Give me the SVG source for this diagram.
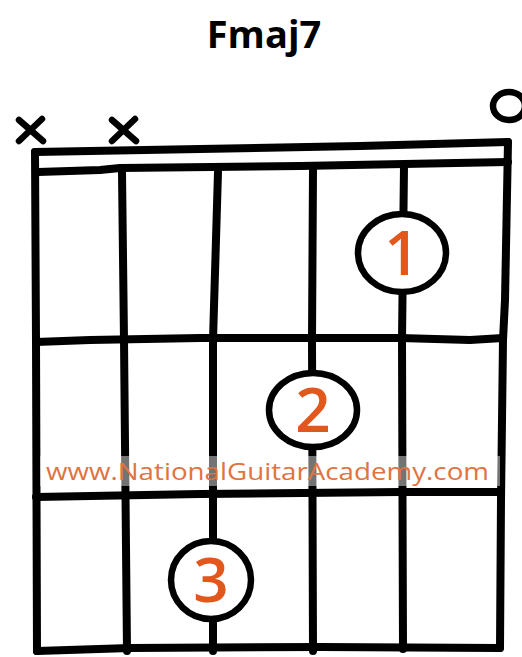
<svg xmlns="http://www.w3.org/2000/svg" width="522" height="657" viewBox="0 0 522 657">
<style>
.ln{fill:none;stroke:#000;stroke-width:8;stroke-linecap:round;stroke-linejoin:round}
.fing{fill:#fff;stroke:#000;stroke-width:6.5}
.num{font-family:"Open Sans","Liberation Sans",sans-serif;font-size:62px;font-weight:600;fill:#e2571c;text-anchor:middle}
.mark{fill:none;stroke:#000;stroke-width:6.5;stroke-linecap:round}
</style>
<rect width="522" height="657" fill="#fff"/>
<g id="title"><text x="264" y="48" font-family="'Open Sans','Liberation Sans',sans-serif" font-weight="bold" font-size="38" text-anchor="middle" fill="#000">Fmaj7</text></g>
<g id="connectors">
<path class="ln" d="M35,152 L200,149 L360,146 L508,142"/>
<path class="ln" d="M38,172 L100,170 L120,168 L300,166 L508,162"/>
<path class="ln" d="M35,152 L36,340 L37,651"/>
<path class="ln" d="M508,142 L505,300 L503,340 L501,500 L500,648"/>
<path class="ln" d="M122,172 L124,340 L127,651"/>
<path class="ln" d="M218,172 L213,340 L213,651"/>
<path class="ln" d="M313,170 L312,340 L313,651"/>
<path class="ln" d="M404,166 L402,340 L403,649"/>
<path class="ln" d="M36,342 L90,340 L200,338 L400,338 L470,340 L503,338"/>
<path class="ln" d="M36,497 L200,494 L400,492 L501,492"/>
<path class="ln" d="M37,651 L130,648 L320,647 L500,648"/>
</g>
<g id="mute1"><path class="mark" d="M19,120 L43,141 M42,119 L19,141"/></g>
<g id="mute2"><path class="mark" d="M112,120 L136,141 M135,119 L112,141"/></g>
<g id="open6"><ellipse cx="509" cy="106" rx="16" ry="14" fill="none" stroke="#000" stroke-width="6.5"/></g>
<g id="finger1"><ellipse class="fing" cx="402" cy="253" rx="44" ry="39"/><text class="num" x="402" y="275">1</text></g>
<g id="finger2"><ellipse class="fing" cx="313" cy="410" rx="44" ry="37"/><text class="num" x="313" y="432">2</text></g>
<g id="finger3"><ellipse class="fing" cx="211" cy="580" rx="40" ry="39"/><text class="num" x="211" y="602">3</text></g>
<g id="watermark">
<rect x="40" y="456" width="460" height="30" fill="#fff" opacity="0.45"/>
<text x="46" y="480" font-family="'Open Sans','Liberation Sans',sans-serif" font-size="24" fill="#e0733f" textLength="443" lengthAdjust="spacingAndGlyphs">www.NationalGuitarAcademy.com</text>
</g>
</svg>
